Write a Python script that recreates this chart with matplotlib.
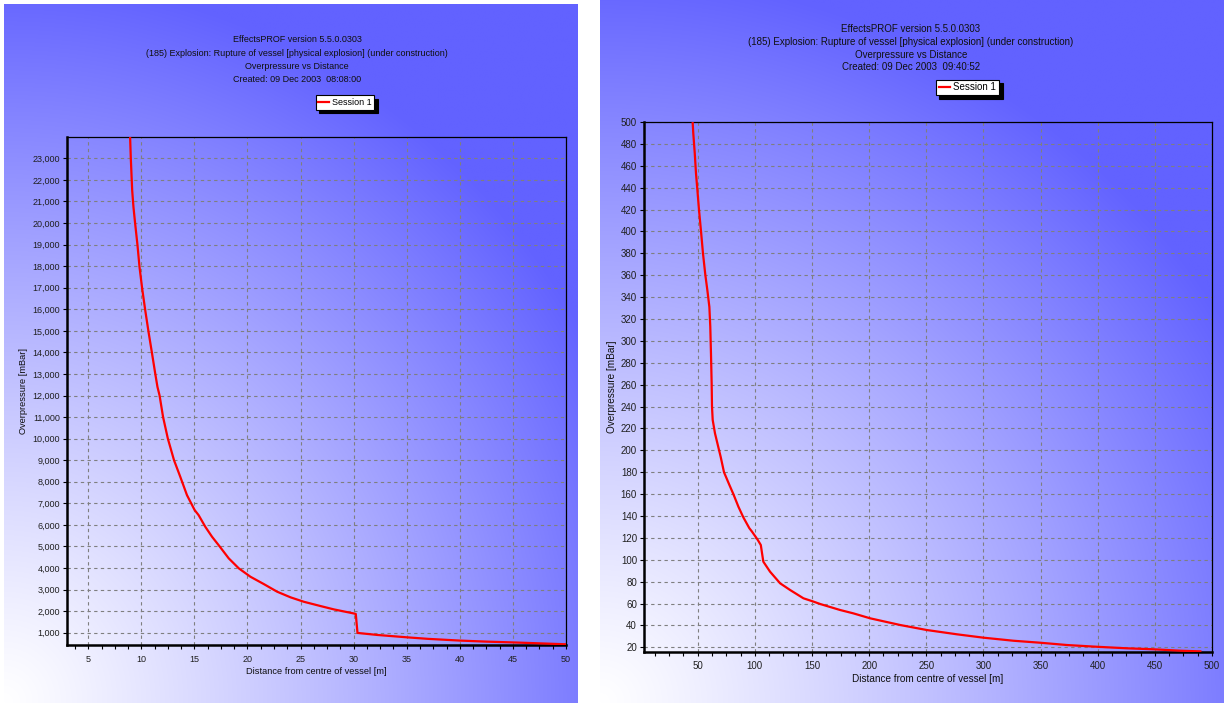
import numpy as np
import matplotlib
matplotlib.use("Agg")
import matplotlib.pyplot as plt
from matplotlib.ticker import MultipleLocator, FuncFormatter
from matplotlib.lines import Line2D

plt.rcParams['font.family'] = ['Liberation Sans', 'DejaVu Sans']

# ---- data: overpressure vs distance, two sessions ----
left_distance = [8.93, 9.01, 9.14, 9.26, 9.42, 9.64, 9.83, 10.08, 10.37, 10.68, 11.0,
                 11.31, 11.52, 11.72, 12.05, 12.5, 13.08, 13.67, 14.30, 15.02, 15.4,
                 16.03, 16.66, 17.38, 18.23, 19.18, 20.28, 21.54, 22.80, 24.06, 25.31,
                 26.89, 28.15, 30.04, 30.2, 30.36, 32.25, 35.0, 37.0, 40.0, 42.6,
                 45.0, 47.6, 50.0]
left_pressure = [24200, 23000, 21510, 20740, 19970, 18970, 17960, 16960, 15950, 14950, 13980,
                 13020, 12400, 12000, 11000, 10000, 9000, 8230, 7380, 6690, 6450,
                 5910, 5450, 5000, 4450, 3985, 3595, 3255, 2900, 2640, 2435,
                 2235, 2080, 1890, 1870, 990, 895, 787, 715, 635, 585,
                 550, 505, 463]

right_distance = [45.4, 46.1, 47.4, 48.5, 49.7, 51.1, 52.9, 54.6, 56.7, 58.4, 60.2,
                  61.0, 61.6, 62.2, 62.5, 63.1, 65.1, 67.2, 70.1, 73.0, 77.7,
                  81.2, 85.6, 89.9, 95.2, 97.3, 102.2, 105.2, 107.4, 113.3, 122.1,
                  130.8, 142.5, 151.2, 157.1, 174.6, 186.3, 200.9, 227.1, 250.5, 276.8,
                  300.1, 326.4, 349.7, 373.1, 399.4, 425.7, 448.9, 472.3, 489.8]
right_pressure = [503, 490, 471.6, 453, 438, 420, 400, 380, 360, 346.6, 331,
                  313, 288.7, 261, 240, 227.8, 215.6, 206.5, 194, 180, 168.4,
                  160, 148.5, 138.8, 128.8, 126.0, 118.7, 113.5, 98.3, 89.1, 78.5,
                  72.4, 64.8, 61.8, 59.6, 54.1, 51.0, 46.5, 40.4, 35.8, 31.9,
                  28.8, 26.0, 24.2, 22.1, 20.5, 19.1, 18.2, 16.9, 16.3]

left_title = ["EffectsPROF version 5.5.0.0303",
              "(185) Explosion: Rupture of vessel [physical explosion] (under construction)",
              "Overpressure vs Distance",
              "Created: 09 Dec 2003  08:08:00"]
right_title = ["EffectsPROF version 5.5.0.0303",
               "(185) Explosion: Rupture of vessel [physical explosion] (under construction)",
               "Overpressure vs Distance",
               "Created: 09 Dec 2003  09:40:52"]
series_name = "Session 1"
x_label = "Distance from centre of vessel [m]"
y_label = "Overpressure [mBar]"

W, H = 1224, 703
fig = plt.figure(figsize=(W / 100, H / 100), dpi=100)
fig.patch.set_facecolor('white')


def px_rect(x0, y0, x1, y1):
    """Pixel box (top-left origin) -> figure rect."""
    return [x0 / W, (H - y1) / H, (x1 - x0) / W, (y1 - y0) / H]


def gradient_panel(rect):
    bg = fig.add_axes(rect, zorder=-5)
    n = 400
    u = np.linspace(0, 1, n)[None, :]
    v = np.linspace(0, 1, n)[:, None]
    r = np.sqrt((u / 1.18) ** 2 + (v / 1.04) ** 2)
    f = np.clip(r, 0, 1) ** 1.15
    blue = np.array([98, 98, 255]) / 255.0
    white = np.array([1.0, 1.0, 1.0])
    img = white[None, None, :] * (1 - f[..., None]) + blue[None, None, :] * f[..., None]
    bg.imshow(img, origin='lower', extent=[0, 1, 0, 1], aspect='auto', interpolation='bilinear')
    bg.set_axis_off()
    return bg


def style_axes(ax, fs):
    ax.set_facecolor('none')
    for side in ('left', 'bottom'):
        ax.spines[side].set_linewidth(1.8)
    for side in ('top', 'right'):
        ax.spines[side].set_linewidth(0.9)
    for s in ax.spines.values():
        s.set_color('black')
    ax.grid(True, which='major', color='#7f7f7f', linestyle=(0, (3, 3)), linewidth=0.8)
    ax.tick_params(which='both', direction='out', length=3, width=0.8, colors='black',
                   labelsize=fs, pad=2)
    ax.tick_params(axis='x', which='major', pad=4)
    ax.tick_params(axis='y', which='minor', left=False)
    for lbl in ax.get_xticklabels() + ax.get_yticklabels():
        lbl.set_color('#202020')


def draw_titles(lines, xc, ys, fs):
    for t, y in zip(lines, ys):
        fig.text(xc / W, 1 - y / H, t, ha='center', va='center', fontsize=fs, color='#101010')


def draw_legend(x0, y0, x1, y1, fs):
    handle = Line2D([], [], color='red', linewidth=1.6)
    cx = (x0 + x1) / 2 / W
    cy = 1 - (y0 + y1) / 2 / H
    leg = fig.legend([handle], [series_name], loc='center', bbox_to_anchor=(cx, cy),
                     fontsize=fs, frameon=True, fancybox=False, handlelength=1.2,
                     handletextpad=0.3, borderpad=0.3, borderaxespad=0,
                     shadow={'color': 'black', 'alpha': 1.0, 'ox': 2.5, 'oy': -2.5})
    fr = leg.get_frame()
    fr.set_edgecolor('black')
    fr.set_linewidth(0.8)
    fr.set_facecolor('white')
    fr.set_alpha(1.0)
    return leg


comma = FuncFormatter(lambda v, p: f"{int(round(v)):,}")

# ---- left panel ----
gradient_panel(px_rect(4, 4, 578, 703))
axl = fig.add_axes(px_rect(67, 137, 566, 645))
axl.plot(left_distance, left_pressure, color='red', linewidth=1.6, zorder=3)
axl.set_xlim(3, 50)
axl.set_ylim(430, 23990)
axl.set_xticks([t for t in range(5, 51, 5)])
axl.xaxis.set_minor_locator(MultipleLocator(1.25))
axl.set_yticks([t for t in range(1000, 23001, 1000)])
axl.yaxis.set_major_formatter(comma)
style_axes(axl, 6.5)
axl.set_xlabel(x_label, fontsize=6.7, labelpad=2, color='#101010')
axl.set_ylabel(y_label, fontsize=6.7, labelpad=3, color='#101010')
draw_titles(left_title, 297, [40, 53.3, 66.7, 80], 6.5)
draw_legend(313, 95, 377, 110, 6.5)

# ---- right panel ----
gradient_panel(px_rect(600, 0, 1224, 703))
axr = fig.add_axes(px_rect(644, 122, 1212, 651.7))
axr.plot(right_distance, right_pressure, color='red', linewidth=1.6, zorder=3)
axr.set_xlim(3, 500)
axr.set_ylim(16, 500)
axr.set_xticks([t for t in range(50, 501, 50)])
axr.xaxis.set_minor_locator(MultipleLocator(12.5))
axr.set_yticks([t for t in range(20, 501, 20)])
style_axes(axr, 7)
axr.set_xlabel(x_label, fontsize=7.2, labelpad=2, color='#101010')
axr.set_ylabel(y_label, fontsize=7.2, labelpad=3, color='#101010')
draw_titles(right_title, 911, [29, 42, 54.5, 67], 7)
draw_legend(935, 80, 1000, 95, 7)

fig.savefig("out.png", dpi=100, facecolor='white')
